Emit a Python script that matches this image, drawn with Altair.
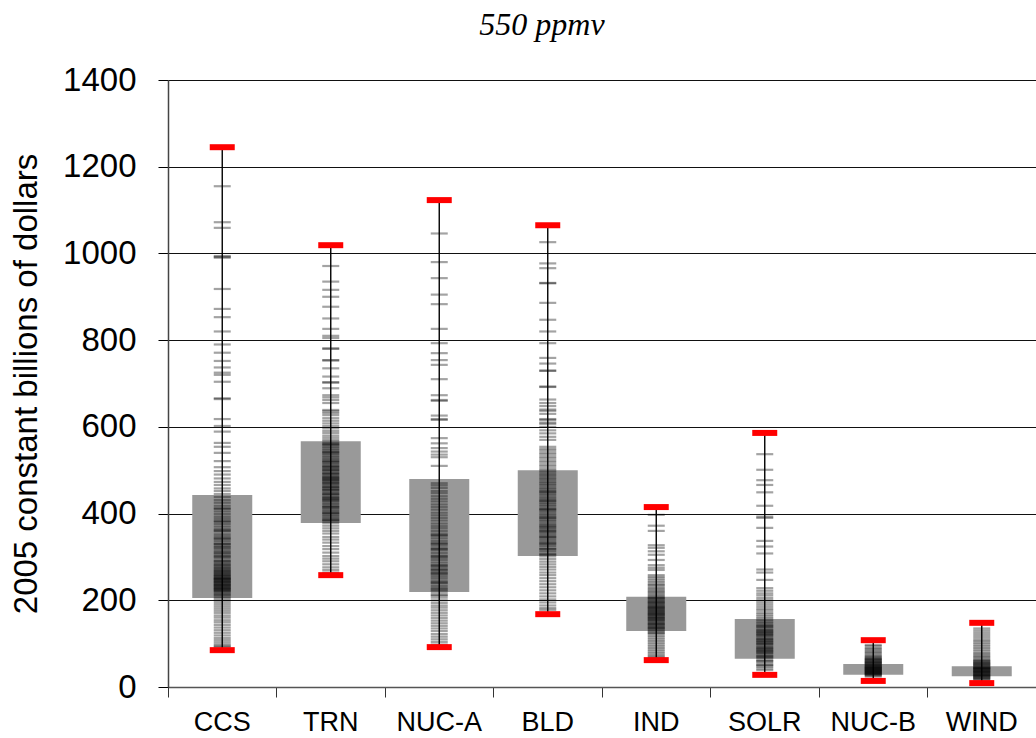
import altair as alt
import pandas as pd

categories = ["CCS", "TRN", "NUC-A", "BLD", "IND", "SOLR", "NUC-B", "WIND"]
box_low = [205, 378, 219, 302, 129, 65, 28, 25]
box_high = [443, 567, 480, 500, 208, 157, 53, 48]
min_vals = [85, 258, 92, 168, 62, 28, 14, 9]
max_vals = [1245, 1019, 1123, 1065, 415, 586, 108, 148]

ccs = [1155, 1072, 1059, 994, 992, 990, 918, 872, 853, 820, 790, 771, 752, 737,
       725, 720, 704, 666, 664, 618, 602, 589, 563, 554, 540, 521, 507, 498, 490,
       481, 473, 466, 458, 452, 445, 438, 431, 425, 418, 412, 405, 399, 393, 388,
       381, 376, 370, 364, 359, 352, 347, 341, 336, 330, 325, 319, 314, 308, 303,
       298, 292, 287, 283, 278, 273, 268, 264, 260, 256, 252, 249, 246, 242, 239,
       236, 233, 230, 227, 224, 221, 218, 215, 212, 209, 205, 201, 196, 191, 186,
       181, 176, 171, 165, 160, 154, 149, 143, 137, 131, 125, 119, 113, 108, 103,
       98, 95, 92, 228, 235, 244, 251, 258, 262, 270, 281, 301, 322, 343, 361, 383,
       411, 242, 222, 250, 232, 226, 238, 247, 255, 266, 275, 290, 310, 330]
trn = [971, 935, 916, 900, 877, 850, 826, 810, 805, 780, 781, 753, 754, 735, 716,
       702, 703, 689, 673, 668, 662, 655, 639, 636, 632, 627, 620, 614, 608, 602,
       597, 591, 586, 580, 575, 570, 566, 562, 558, 554, 550, 546, 542, 538, 534,
       530, 526, 522, 518, 514, 510, 506, 502, 498, 494, 490, 486, 482, 478, 474,
       470, 466, 462, 458, 454, 450, 446, 442, 438, 434, 430, 426, 422, 418, 414,
       410, 406, 402, 398, 394, 390, 386, 382, 378, 372, 366, 360, 354, 346, 340,
       333, 325, 318, 310, 302, 296, 290, 283, 276, 270, 264, 560, 541, 520, 501,
       480, 461, 445, 431, 415, 401, 385, 470, 455, 492, 476, 484, 508, 436]
nuca = [1046, 980, 943, 905, 883, 826, 793, 770, 754, 743, 710, 673, 662, 660,
        626, 618, 616, 574, 562, 551, 543, 536, 530, 510, 470, 465, 459, 452, 447,
        440, 434, 428, 421, 415, 409, 402, 396, 390, 384, 377, 371, 366, 360, 354,
        349, 343, 337, 331, 326, 320, 315, 309, 303, 298, 293, 287, 281, 276, 271,
        265, 260, 255, 250, 244, 239, 233, 228, 222, 217, 212, 206, 200, 194, 188,
        183, 177, 171, 165, 159, 153, 147, 141, 135, 129, 122, 116, 110, 104, 98,
        350, 331, 301, 270, 241, 211, 280, 225, 262, 318]
bld = [1026, 977, 966, 931, 932, 886, 847, 820, 793, 759, 746, 729, 730, 692, 693,
       663, 637, 616, 607, 655, 648, 640, 630, 618, 610, 600, 592, 585, 577, 570,
       554, 549, 545, 540, 536, 531, 527, 522, 518, 513, 509, 504, 500, 496, 491,
       487, 482, 478, 473, 469, 465, 460, 456, 451, 447, 443, 438, 434, 430, 425,
       421, 417, 412, 408, 404, 399, 395, 390, 386, 382, 377, 373, 368, 364, 359,
       355, 350, 345, 340, 335, 330, 325, 319, 313, 307, 301, 295, 289, 283, 277,
       271, 264, 258, 251, 244, 237, 230, 223, 216, 209, 202, 195, 188, 182, 178,
       360, 346, 331, 318, 305, 370, 391, 410, 429, 451]
ind = [397, 372, 360, 327, 321, 313, 305, 293, 281, 275, 270, 258, 254, 250, 246,
       242, 238, 235, 232, 228, 225, 222, 219, 216, 213, 210, 207, 204, 201, 198,
       195, 192, 189, 186, 183, 180, 177, 174, 171, 168, 165, 162, 159, 156, 153,
       150, 147, 144, 141, 138, 135, 132, 129, 126, 122, 118, 114, 110, 106, 102,
       98, 94, 90, 86, 82, 78, 74, 70, 68, 205, 195, 185, 175, 170, 166, 155, 145,
       136, 125, 181, 160]
solr = [537, 501, 477, 466, 449, 418, 393, 390, 367, 337, 324, 308, 271, 264, 247,
        228, 222, 216, 211, 205, 200, 195, 190, 185, 180, 176, 171, 167, 163, 159,
        155, 151, 147, 143, 139, 135, 131, 127, 123, 119, 115, 111, 107, 103, 99,
        95, 91, 87, 83, 79, 75, 71, 67, 63, 59, 55, 51, 47, 43, 39, 140, 130, 120,
        110, 100, 90, 80, 70, 60, 50, 125, 105, 85]
nucb = [97, 94, 90, 87, 84, 81, 78, 75, 72, 70, 68, 66, 64, 62, 60, 58, 56, 54, 52,
        50, 48, 46, 44, 42, 40, 38, 36, 34, 32, 30, 28, 26, 24, 61, 55, 51, 45, 41,
        35, 31, 65, 47, 43, 37, 33, 57, 39, 29]
wind = [135, 130, 125, 120, 115, 110, 106, 102, 98, 94, 90, 86, 82, 78, 75, 72,
        69, 66, 63, 60, 58, 56, 54, 52, 50, 48, 46, 44, 42, 40, 38, 36, 34, 32, 30,
        28, 26, 24, 22, 20, 18, 16, 61, 55, 51, 45, 41, 35, 31, 25, 21, 43, 37, 27]

samples = {"CCS": ccs, "TRN": trn, "NUC-A": nuca, "BLD": bld, "IND": ind,
           "SOLR": solr, "NUC-B": nucb, "WIND": wind}

rows = []
for c, vals in samples.items():
    for v in vals:
        rows.append({"cat": c, "v": v})
samp_df = pd.DataFrame(rows)

summ_df = pd.DataFrame({"cat": categories, "lo": box_low, "hi": box_high,
                        "mn": min_vals, "mx": max_vals})
cap_df = pd.DataFrame({"cat": categories * 2, "v": min_vals + max_vals})

FONT = "Liberation Sans"

x_enc = alt.X("cat:N", sort=categories,
              scale=alt.Scale(paddingInner=0, paddingOuter=0),
              axis=alt.Axis(title=None, labelFont=FONT, labelFontSize=27,
                            labelColor="black", labelAngle=0, labelPadding=12,
                            bandPosition=0, tickSize=10, tickColor="#333333",
                            domainColor="#555555", domainWidth=1.5, grid=False))
y_scale = alt.Scale(domain=[0, 1400], nice=False)
y_axis = alt.Axis(title="2005 constant billions of dollars", titleFont=FONT,
                  titleFontSize=33, titleFontWeight="normal", titleColor="black",
                  titlePadding=19, labelFont=FONT, labelFontSize=33,
                  labelColor="black", labelPadding=22, tickSize=10, format="d",
                  tickColor="black", values=[0, 200, 400, 600, 800, 1000, 1200, 1400],
                  grid=True, gridColor="#111111", gridWidth=1.2,
                  domainColor="#444444", domainWidth=1.5)

boxes = alt.Chart(summ_df).mark_bar(size=60, color="#999999").encode(
    x=x_enc,
    y=alt.Y("lo:Q", scale=y_scale, axis=y_axis),
    y2="hi:Q",
)
ticks = alt.Chart(samp_df).mark_tick(size=17, thickness=2.2, color="black",
                                     opacity=0.36).encode(
    x=alt.X("cat:N", sort=categories),
    y=alt.Y("v:Q"),
)
whisk = alt.Chart(summ_df).mark_rule(color="black", strokeWidth=1.4).encode(
    x=alt.X("cat:N", sort=categories),
    y="mn:Q",
    y2="mx:Q",
)
caps = alt.Chart(cap_df).mark_tick(size=25, thickness=6, color="#ff0000",
                                   opacity=1).encode(
    x=alt.X("cat:N", sort=categories),
    y=alt.Y("v:Q"),
)

chart = alt.layer(boxes, ticks, whisk, caps).properties(
    width=868, height=607,
    title=alt.TitleParams("550 ppmv", font="Liberation Serif", fontSize=32,
                          fontStyle="italic", fontWeight="normal", color="black",
                          anchor="middle", dx=-60, offset=22),
    autosize=alt.AutoSizeParams(type="none"),
    padding={"left": 168, "top": 80, "right": 0, "bottom": 51},
).configure_view(stroke=None).configure(background="white")

chart.save("out.html", embed_options={"renderer": "svg", "actions": False})
